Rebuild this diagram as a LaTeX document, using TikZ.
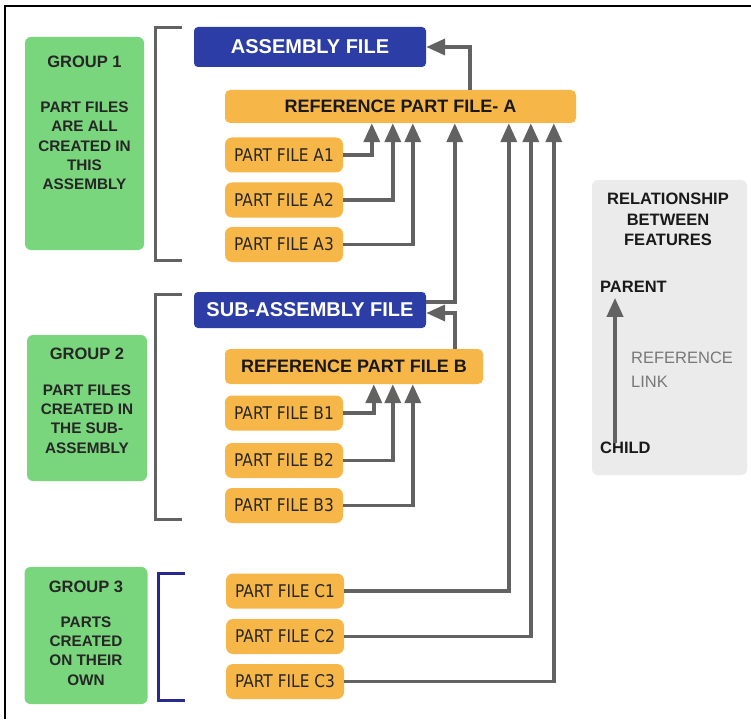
\documentclass[tikz,border=0pt]{standalone}
\usepackage{fontspec}
\setmainfont{Liberation Sans}
\newfontfamily\pf[FakeStretch=0.88]{DejaVu Sans}
\usetikzlibrary{arrows.meta}
\definecolor{asmblue}{RGB}{44,62,165}
\definecolor{partorange}{RGB}{247,182,72}
\definecolor{grpgreen}{RGB}{122,214,125}
\definecolor{linegray}{RGB}{98,98,98}
\definecolor{leggray}{RGB}{235,235,235}
\definecolor{brnavy}{RGB}{40,40,145}
\definecolor{linkgray}{RGB}{120,120,120}
\begin{document}
\begin{tikzpicture}[x=1pt,y=-1pt,
 asmbox/.style={fill=asmblue, rounded corners=4pt, text=white, font=\bfseries\fontsize{20}{24}\selectfont, inner sep=0pt, minimum width=232pt},
 refbox/.style={fill=partorange, rounded corners=5pt, font=\bfseries\fontsize{18}{22}\selectfont, inner sep=0pt, text=black!90},
 partbox/.style={fill=partorange, rounded corners=7pt, minimum width=118pt, minimum height=35pt, font=\pf\fontsize{17.5}{20}\selectfont, inner sep=0pt, text=black!85},
 grpbox/.style={fill=grpgreen, rounded corners=6pt, inner sep=0pt},
 grptitle/.style={font=\bfseries\fontsize{16.5}{19}\selectfont, text=black!85, inner sep=0pt},
 grpbody/.style={font=\bfseries\fontsize{15.3}{19.3}\selectfont, align=center, text=black!85, inner sep=0pt},
 link/.style={draw=linegray, line width=3.8pt, -{Triangle[length=19pt,width=16pt]}},
 bracket/.style={draw=linegray, line width=3pt},
 legtext/.style={font=\bfseries\fontsize{16.5}{20.5}\selectfont, text=black!90, inner sep=2pt},
]
\useasboundingbox (0,0) rectangle (751,719);
\fill[white] (0,0) rectangle (751,719);
% frame (top and left edges)
\draw[black, line width=2.5pt] (751,6) -- (5,6) -- (5,719);

% group boxes
\node[grpbox, minimum width=119pt, minimum height=213pt] (g1) at (84.5,143.5) {};
\node[grptitle] (g1t) at (84.5,62) {GROUP 1};
\node[grpbody] (g1b) at (84.5,146) {PART FILES\\ARE ALL\\CREATED IN\\THIS\\ASSEMBLY};

\node[grpbox, minimum width=120pt, minimum height=146pt] (g2) at (87,408) {};
\node[grptitle] (g2t) at (87,354) {GROUP 2};
\node[grpbody] (g2b) at (87,419) {PART FILES\\CREATED IN\\THE SUB-\\ASSEMBLY};

\node[grpbox, minimum width=123pt, minimum height=137pt] (g3) at (86,635.5) {};
\node[grptitle] (g3t) at (86,587) {GROUP 3};
\node[grpbody] (g3b) at (86,651) {PARTS\\CREATED\\ON THEIR\\OWN};

% brackets
\draw[bracket] (182,28) -- (155,28) -- (155,260) -- (182,260);
\draw[bracket] (182,294) -- (155,294) -- (155,519) -- (182,519);
\draw[draw=brnavy, line width=3pt] (185,573) -- (158,573) -- (158,700) -- (185,700);

% blue boxes
\node[asmbox, minimum height=40pt] (asm) at (310,47) {ASSEMBLY FILE};
\node[asmbox, minimum height=36pt] (sub) at (310,310) {SUB-ASSEMBLY FILE};

% reference boxes
\node[refbox, minimum width=351pt, minimum height=33pt] (refA) at (400.5,106.5) {REFERENCE PART FILE- A};
\node[refbox, minimum width=258pt, minimum height=35pt] (refB) at (354,366.5) {REFERENCE PART FILE B};

% part boxes
\node[partbox] (A1) at (284,155) {PART FILE A1};
\node[partbox] (A2) at (284,200) {PART FILE A2};
\node[partbox] (A3) at (284,244.5) {PART FILE A3};
\node[partbox] (B1) at (284,413) {PART FILE B1};
\node[partbox] (B2) at (284,460.5) {PART FILE B2};
\node[partbox] (B3) at (284,505.5) {PART FILE B3};
\node[partbox] (C1) at (285,591) {PART FILE C1};
\node[partbox] (C2) at (285,636.5) {PART FILE C2};
\node[partbox] (C3) at (285,681.5) {PART FILE C3};

% connectors
\draw[link] (A1.east) -| ([xshift=147pt]refA.south west);
\draw[link] (A2.east) -| ([xshift=168pt]refA.south west);
\draw[link] (A3.east) -| ([xshift=188pt]refA.south west);
\draw[link] ([yshift=8pt]sub.east) -| ([xshift=230pt]refA.south west);
\draw[link] (C1.east) -| ([xshift=284pt]refA.south west);
\draw[link] (C2.east) -| ([xshift=306pt]refA.south west);
\draw[link] (C3.east) -| ([xshift=329pt]refA.south west);
\draw[link] ([xshift=245pt]refA.north west) |- (asm.east);
\draw[link] ([xshift=230pt]refB.north west) |- ([yshift=-3pt]sub.east);
\draw[link] (B1.east) -| ([xshift=149pt]refB.south west);
\draw[link] (B2.east) -| ([xshift=168pt]refB.south west);
\draw[link] (B3.east) -| ([xshift=188pt]refB.south west);

% legend
\node[fill=leggray, rounded corners=6pt, minimum width=155pt, minimum height=295pt, inner sep=0pt] (leg) at (669.5,327.5) {};
\node[legtext, align=center] (legt) at (668,219.5) {RELATIONSHIP\\BETWEEN\\FEATURES};
\node[legtext, anchor=west] (parent) at (598,287) {PARENT};
\node[legtext, anchor=west] (child) at (598,448) {CHILD};
\node[font=\fontsize{16.5}{24}\selectfont, text=linkgray, align=left, anchor=west, inner sep=0pt] (reflink) at (631,369.5) {REFERENCE\\LINK};
\draw[link] ([xshift=17pt,yshift=-3pt]child.north west) -- ([xshift=17pt,yshift=-3pt]parent.south west);
\end{tikzpicture}
\end{document}
